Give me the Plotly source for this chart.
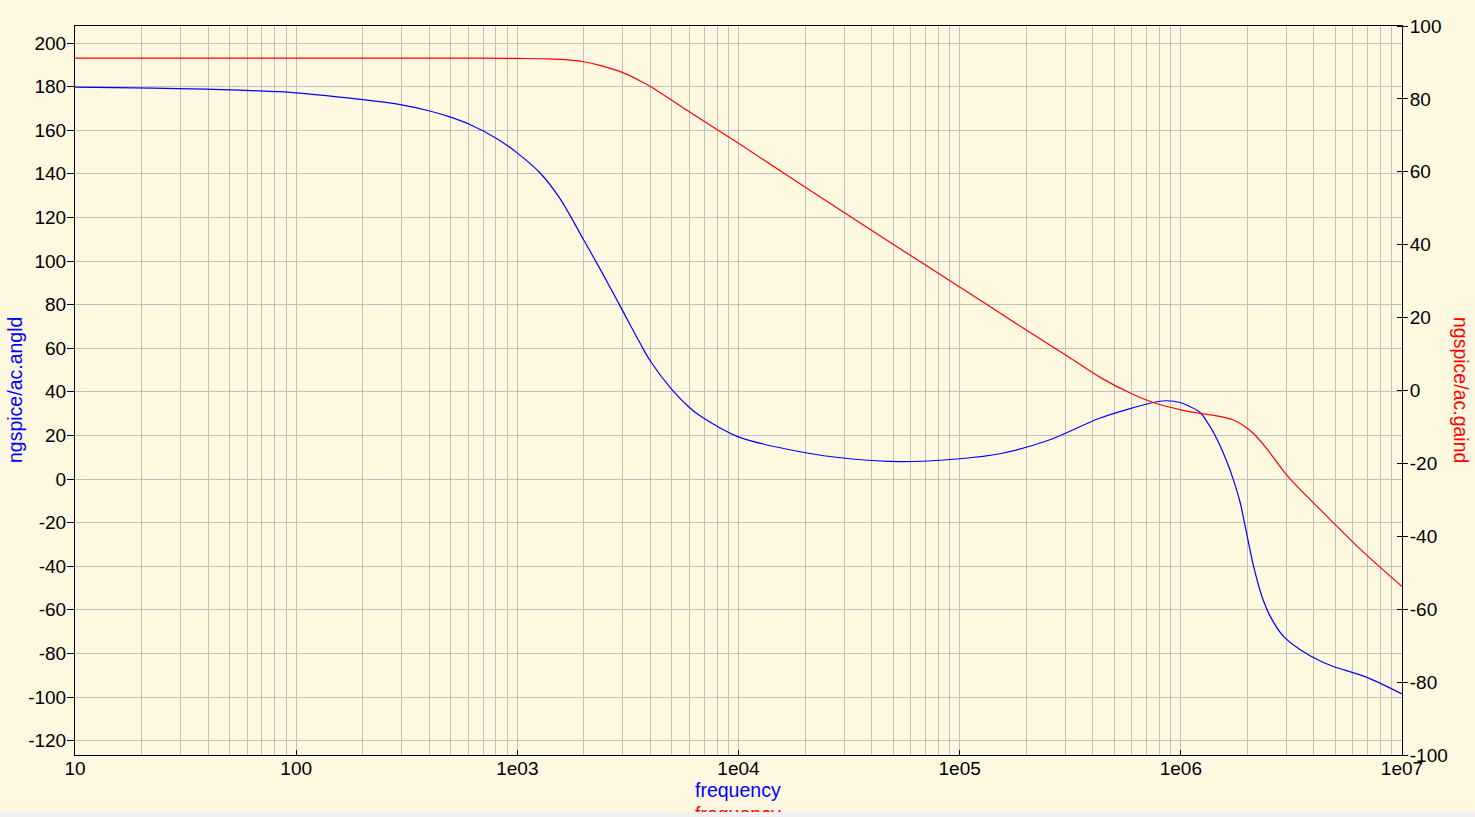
import plotly.graph_objects as go

# ---- data ----
phase_freq = [10, 22.7, 39, 55.6, 72, 84.3, 200, 300, 402, 495, 610, 809, 1000, 1265, 1560,
              2000, 2362, 3000, 3580, 4000, 5000, 6000, 6700, 10000, 18970, 31900, 53700,
              100000, 152000, 256000, 432000, 750000, 849000, 993000, 1224000, 1290000,
              1420000, 1614000, 1730000, 1857000, 1955000, 2132000, 2327000, 2537000,
              2913000, 3467000, 4270000, 4890000, 6940000, 10000000]
phase_deg = [179.8, 179.3, 178.8, 178.4, 177.9, 177.7, 174.0, 171.6, 168.8, 166.1, 162.6, 156.1,
             149.5, 140.5, 128.6, 109.5, 96.5, 77.0, 62.5, 54.0, 41.0, 32.8, 29.0, 19.3, 12.5,
             9.3, 8.0, 9.3, 11.6, 18.0, 28.0, 35.1, 35.9, 35.1, 30.5, 27.5, 20.5, 8.0, -0.5,
             -11.0, -21.7, -40.0, -53.9, -63.0, -72.2, -78.3, -83.5, -86.0, -91.0, -98.6]

gain_freq = [10, 100, 500, 1000, 1400, 1637, 2000, 2362, 3000, 3580, 4000, 5610, 10000, 30000,
             100000, 200000, 300000, 432000, 600000, 750000, 1000000, 1224000, 1500000, 1730000,
             1917000, 2132000, 2449000, 3000000, 3467000, 4270000, 6490000, 10000000]
gain_db = [91.2, 91.2, 91.2, 91.1, 91.0, 90.8, 90.2, 89.2, 87.2, 85.0, 83.4, 77.6, 67.8, 48.8,
           28.4, 16.6, 9.8, 3.6, -0.9, -3.3, -5.3, -6.3, -7.1, -8.1, -9.6, -11.8, -16.0,
           -23.1, -27.2, -32.7, -43.6, -53.8]

x_tickvals = [10, 100, 1000, 10000, 100000, 1000000, 10000000]
x_ticktext = ["10", "100", "1e03", "1e04", "1e05", "1e06", "1e07"]
x_minor = [m * d for d in [10, 100, 1000, 10000, 100000, 1000000] for m in range(2, 10)]
left_ticks = list(range(-120, 201, 20))
right_ticks = list(range(-100, 101, 20))

BG = "#FFF8E1"
GRID = "#C0C0C0"
FONT = "Liberation Sans, Arial, sans-serif"

fig = go.Figure()
fig.add_trace(go.Scatter(x=phase_freq, y=phase_deg, mode="lines",
                         line=dict(color="#0000FF", width=1.2, shape="spline", smoothing=0.8),
                         yaxis="y", showlegend=False))
fig.add_trace(go.Scatter(x=gain_freq, y=gain_db, mode="lines",
                         line=dict(color="#FF0000", width=1.2, shape="spline", smoothing=0.8),
                         yaxis="y2", showlegend=False))

W, H = 1475, 812
L, R, T, B = 75, 73, 26, 57

fig.update_layout(
    width=W, height=H,
    margin=dict(l=L, r=R, t=T, b=B),
    paper_bgcolor=BG, plot_bgcolor=BG,
    font=dict(family=FONT, size=19, color="black"),
    xaxis=dict(type="log", range=[1, 7], tickmode="array", tickvals=x_tickvals,
               ticktext=x_ticktext, ticks="inside", ticklen=5, tickcolor="black",
               ticklabelstandoff=-4,
               showgrid=True, gridcolor=GRID, gridwidth=1,
               showline=True, linecolor="black", linewidth=1, mirror=True,
               zeroline=False, tickfont=dict(size=19, family=FONT),
               minor=dict(tickvals=x_minor, showgrid=True, gridcolor=GRID, gridwidth=1, ticks="")),
    yaxis=dict(range=[-126.6, 207.8], tickmode="array", tickvals=left_ticks,
               ticktext=[str(v) for v in left_ticks],
               ticks="outside", ticklen=7, tickcolor="black", ticklabelstandoff=-3,
               showgrid=True, gridcolor=GRID, gridwidth=1,
               showline=True, linecolor="black", linewidth=1,
               zeroline=False, tickfont=dict(size=19, family=FONT)),
    yaxis2=dict(range=[-100, 100], overlaying="y", side="right", tickmode="array",
                tickvals=right_ticks, ticktext=[str(v) for v in right_ticks],
                ticks="outside", ticklen=5, tickcolor="black", ticklabelstandoff=-2,
                showgrid=False, showline=True, linecolor="black", linewidth=1,
                zeroline=False, tickfont=dict(size=19, family=FONT),
                minor=dict(tickvals=right_ticks, ticks="inside", ticklen=5, tickcolor="black", showgrid=False)),
)

pw = W - L - R
ph = H - T - B
def px(pix):
    return (pix - L) / pw
def py(pix):
    return (H - B - pix) / ph

fig.add_annotation(text="ngspice/ac.angld", xref="paper", yref="paper",
                   x=px(15), y=py(390), xanchor="center", yanchor="middle", textangle=-90,
                   showarrow=False, font=dict(color="#0000FF", size=19.5, family=FONT))
fig.add_annotation(text="ngspice/ac.gaind", xref="paper", yref="paper",
                   x=px(1461), y=py(390), xanchor="center", yanchor="middle", textangle=90,
                   showarrow=False, font=dict(color="#FF0000", size=19.5, family=FONT))
fig.add_annotation(text="frequency", xref="paper", yref="paper",
                   x=px(738), y=py(790), xanchor="center", yanchor="middle", showarrow=False,
                   font=dict(color="#0000FF", size=19.5, family=FONT))
fig.add_annotation(text="frequency", xref="paper", yref="paper",
                   x=px(738), y=py(814), xanchor="center", yanchor="middle", showarrow=False,
                   font=dict(color="#FF0000", size=19.5, family=FONT))

fig.write_html("out.html", config={"displayModeBar": False},
               post_script="document.body.style.margin='0';document.body.style.padding='0';"
                           "document.body.style.background='#F0F0F0';"
                           "document.documentElement.style.background='#F0F0F0';")
